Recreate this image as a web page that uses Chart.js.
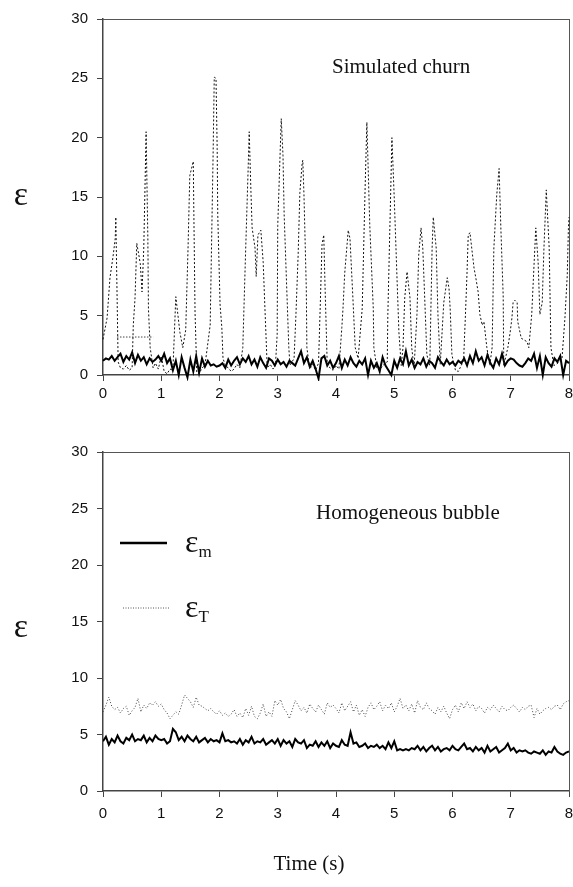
<!DOCTYPE html>
<html>
<head>
<meta charset="utf-8">
<script src="https://cdn.jsdelivr.net/npm/chart.js@4.4.0/dist/chart.umd.min.js"></script>
<style>
  html, body { margin: 0; padding: 0; background: #fff; }
  body { width: 573px; height: 887px; position: relative; overflow: hidden; }
  #churn { position: absolute; left: 0; top: 0; }
  #bubble { position: absolute; left: 0; top: 430px; }
</style>
</head>
<body>
<canvas id="churn" width="573" height="410"></canvas>
<canvas id="bubble" width="573" height="457"></canvas>
<script>
// axis ticks
const timeTicks = [0, 1, 2, 3, 4, 5, 6, 7, 8];
const epsTicks = [0, 5, 10, 15, 20, 25, 30];

// sampling step of the smooth (regularly sampled) records, in s
const sampleStep = 0.05;

// simulated churn: eps_T, read off peak by peak
const churnTTimes = [
  0.00, 0.07, 0.12, 0.17, 0.21, 0.22, 0.26, 0.30, 0.35, 0.40, 0.45, 0.50,
  0.52, 0.55, 0.58, 0.64, 0.67, 0.70, 0.74, 0.77, 0.78, 0.81, 0.86, 0.90,
  0.95, 1.00, 1.05, 1.10, 1.15, 1.20, 1.25, 1.32, 1.37, 1.42, 1.46, 1.49,
  1.55, 1.56, 1.58, 1.61, 1.65, 1.70, 1.75, 1.84, 1.89, 1.91, 1.94, 1.96,
  1.97, 2.01, 2.04, 2.06, 2.10, 2.15, 2.20, 2.25, 2.30, 2.35, 2.40, 2.45,
  2.49, 2.51, 2.54, 2.56, 2.61, 2.63, 2.66, 2.71, 2.75, 2.78, 2.82, 2.87,
  2.92, 2.96, 2.99, 3.00, 3.06, 3.09, 3.11, 3.16, 3.19, 3.21, 3.28, 3.31,
  3.35, 3.38, 3.42, 3.43, 3.45, 3.49, 3.50, 3.55, 3.60, 3.65, 3.70, 3.73,
  3.76, 3.79, 3.81, 3.85, 3.90, 3.95, 4.00, 4.05, 4.10, 4.12, 4.15, 4.19,
  4.21, 4.24, 4.29, 4.33, 4.38, 4.45, 4.50, 4.53, 4.58, 4.64, 4.65, 4.70,
  4.75, 4.80, 4.88, 4.89, 4.93, 4.96, 5.00, 5.05, 5.08, 5.12, 5.15, 5.18,
  5.22, 5.27, 5.30, 5.34, 5.39, 5.42, 5.46, 5.49, 5.56, 5.61, 5.65, 5.67,
  5.72, 5.75, 5.79, 5.85, 5.91, 5.94, 5.96, 5.99, 6.05, 6.10, 6.15, 6.19,
  6.22, 6.25, 6.27, 6.30, 6.33, 6.37, 6.40, 6.44, 6.47, 6.51, 6.54, 6.59,
  6.64, 6.68, 6.71, 6.76, 6.80, 6.83, 6.87, 6.88, 6.95, 6.99, 7.02, 7.04,
  7.07, 7.11, 7.12, 7.18, 7.28, 7.31, 7.36, 7.40, 7.43, 7.47, 7.50, 7.54,
  7.57, 7.61, 7.62, 7.66, 7.69, 7.74, 7.81, 7.88, 7.93, 7.97, 7.99, 8.00
];
const churnTValues = [
  3.0, 4.8, 8.2, 9.9, 11.5, 13.3, 1.1, 0.6, 0.5, 0.8, 0.4, 0.6,
  4.2, 6.5, 11.1, 9.4, 7.0, 10.7, 20.5, 11.5, 5.6, 2.3, 0.6, 1.0,
  0.5, 1.6, 0.3, 0.1, 0.5, 0.4, 6.6, 3.6, 2.3, 3.8, 10.7, 16.8,
  18.0, 13.5, 5.3, 0.2, 0.1, 0.6, 0.8, 4.2, 18.5, 25.1, 25.0, 19.1,
  13.5, 5.9, 4.0, 1.4, 0.8, 0.6, 0.3, 0.5, 0.9, 0.6, 2.3, 10.7,
  17.1, 20.5, 15.4, 12.4, 10.7, 8.3, 11.8, 12.2, 9.5, 5.6, 0.6, 0.9,
  0.5, 0.8, 3.4, 12.6, 21.6, 18.5, 13.5, 6.5, 2.3, 0.8, 1.4, 4.8,
  10.1, 15.4, 17.9, 18.1, 15.2, 7.3, 2.3, 0.5, 0.9, 0.4, 1.0, 5.9,
  11.0, 11.8, 7.8, 0.8, 0.6, 0.4, 0.8, 0.5, 4.0, 5.6, 8.6, 11.0,
  12.2, 11.5, 6.5, 2.3, 1.4, 5.6, 15.8, 21.3, 12.6, 5.6, 2.3, 0.6,
  0.4, 0.8, 1.1, 5.1, 13.5, 20.0, 14.9, 7.8, 3.6, 0.8, 2.3, 6.5,
  8.7, 6.5, 2.3, 0.6, 5.1, 10.1, 12.4, 10.7, 1.7, 0.8, 10.7, 13.3,
  10.7, 5.1, 0.9, 6.1, 8.2, 7.3, 5.6, 1.7, 0.4, 0.3, 0.8, 1.2,
  4.8, 8.7, 11.8, 12.0, 10.7, 9.0, 8.2, 7.0, 5.1, 4.2, 4.5, 2.3,
  0.8, 2.3, 10.7, 15.2, 17.4, 12.4, 6.7, 0.8, 2.3, 3.6, 4.8, 6.1,
  6.3, 6.1, 4.5, 3.1, 2.8, 2.3, 5.1, 9.3, 12.4, 9.5, 5.1, 6.1,
  10.7, 15.6, 14.6, 10.7, 2.3, 0.8, 1.0, 1.4, 4.8, 8.4, 12.4, 13.3
];
// short flat dotted stretch near the start of the churn record
const churnGapTimes = [0.24, 0.86];
const churnGapValues = [3.2, 3.2];

// simulated churn: eps_m, every sampleStep
const churnM = [
  1.2, 1.4, 1.3, 1.6, 1.2, 1.5, 1.8, 1.1, 1.6, 1.3,
  1.9, 1.0, 1.7, 1.2, 1.5, 0.9, 1.4, 1.1, 1.3, 1.6,
  1.2, 1.8, 1.0, 1.4, 0.4, 1.2, 0.0, 1.5, 0.6, -0.2,
  1.3, 0.3, 1.6, 0.2, 1.4, 0.7, 1.2, 0.8, 0.9, 0.7,
  0.8, 1.0, 0.6, 1.3, 0.8, 1.2, 1.5, 0.9, 1.4, 1.1,
  1.6, 0.9, 1.3, 0.7, 1.5, 1.0, 0.6, 1.4, 1.2, 0.8,
  1.3, 0.9, 1.1, 0.7, 1.2, 1.0, 0.8, 1.4, 2.0, 1.0,
  1.5, 0.7, 1.2, 0.5, -0.3, 1.4, 1.6, 0.8, 1.2, 0.6,
  1.0, 1.6, 0.6, 1.3, 0.8, 1.5, 1.0, 0.7, 1.2, 0.9,
  1.4, 0.0, 1.2, 0.6, 1.0, 0.3, 1.5, 0.8, 0.4, 0.0,
  1.2, 0.6, 1.4, 0.9, 2.0, 0.8, 1.3, 0.6, 1.1, 0.9,
  1.4, 0.7, 1.2, 1.0, 0.6, 1.5, 1.1, 0.8, 1.3, 0.9,
  1.1, 0.8, 1.2, 1.0, 1.4, 0.8, 1.6, 1.0, 2.0, 1.2,
  1.5, 0.8, 1.7, 1.0, 0.6, 1.4, 0.9, 1.8, 0.8, 1.2,
  1.4, 1.3, 1.0, 0.8, 0.7, 1.0, 1.4, 1.2, 1.8, 0.6,
  1.6, 0.0, 1.5, 1.0, 0.7, 1.4, 1.1, 1.6, 0.0, 1.2,
  1.0
];

// homogeneous bubble: eps_m and eps_T, every sampleStep
const bubbleM = [
  4.4, 4.8, 4.1, 4.6, 4.3, 4.9, 4.4, 4.2, 4.7, 4.5,
  5.0, 4.4, 4.6, 4.5, 4.9, 4.3, 4.7, 4.4, 4.9, 4.6,
  4.5, 4.6, 4.2, 4.4, 5.5, 5.2, 4.5, 4.8, 4.4, 4.9,
  4.6, 4.4, 4.8, 4.3, 4.5, 4.7, 4.3, 4.6, 4.4, 4.5,
  4.3, 5.1, 4.4, 4.5, 4.3, 4.4, 4.2, 4.6, 4.1, 4.5,
  4.3, 4.8, 4.2, 4.4, 4.3, 4.6, 4.1, 4.3, 4.5, 4.2,
  4.6, 4.0, 4.5, 4.2, 4.4, 3.9, 4.6, 4.3, 4.2, 4.5,
  3.8, 4.1, 4.0, 4.4, 3.9, 4.3, 4.0, 4.4, 3.8, 4.2,
  4.0, 3.9, 4.5, 4.1, 4.0, 5.2, 4.2, 4.3, 3.9, 4.0,
  4.2, 3.8, 4.0, 3.9, 4.1, 3.8, 4.0, 3.7, 4.3, 3.8,
  4.4, 3.6, 3.7, 3.6, 3.7, 3.6, 3.8, 3.7, 4.0, 3.6,
  3.9, 3.5, 3.8, 4.0, 3.6, 3.9, 3.5, 3.7, 3.8, 3.6,
  4.0, 3.7, 3.6, 3.9, 4.2, 3.7, 3.8, 3.5, 3.9, 3.6,
  3.8, 3.4, 4.0, 3.5, 3.7, 3.9, 3.4, 3.6, 3.8, 4.2,
  3.6, 3.8, 3.4, 3.6, 3.5, 3.6, 3.4, 3.3, 3.5, 3.4,
  3.3, 3.6, 3.2, 3.5, 3.4, 3.9, 3.5, 3.3, 3.2, 3.4,
  3.5
];
const bubbleT = [
  7.0, 7.6, 8.3, 7.5, 7.2, 7.4, 6.9, 7.3, 7.5, 6.7,
  7.1, 7.4, 8.2, 7.0, 7.6, 7.3, 7.8, 7.6, 7.9, 7.5,
  7.7, 7.2, 6.9, 6.4, 6.7, 7.0, 6.8, 7.6, 8.5, 8.2,
  7.9, 7.4, 8.3, 7.6, 7.5, 7.3, 7.1, 7.3, 7.0, 6.8,
  7.1, 6.7, 6.9, 6.6, 6.8, 7.2, 6.6, 6.9, 6.5, 7.3,
  6.7, 7.5, 6.6, 6.4, 6.9, 7.7, 6.6, 7.0, 6.6, 8.0,
  7.6, 8.1, 7.3, 7.0, 6.4, 7.2, 8.0, 7.6, 7.1, 7.4,
  6.9, 7.7, 7.3, 7.0, 7.6, 7.2, 6.8, 7.8, 7.4, 7.6,
  7.3, 6.9, 7.8, 7.1, 7.5, 7.9, 7.0, 7.6, 6.7, 7.2,
  6.6, 7.4, 7.8, 7.2, 7.5, 7.9, 7.1, 7.6, 7.3, 7.8,
  7.0, 7.5, 8.2, 7.3, 7.6, 7.1, 7.7, 6.9, 8.0, 7.4,
  7.2, 7.8, 7.3, 7.1, 6.8, 7.4, 7.0, 7.5, 6.9, 6.4,
  7.2, 7.6, 7.0, 7.8, 7.3, 7.9, 7.4, 7.7, 7.1, 7.5,
  7.3, 6.9, 7.4, 7.2, 7.6, 7.3, 7.0, 7.5, 7.2, 7.1,
  7.4, 7.6, 7.3, 7.0, 7.4, 7.2, 7.5, 7.6, 6.5, 7.3,
  6.8, 7.1, 7.3, 7.4, 7.2, 7.5, 7.6, 7.2, 7.7, 7.9,
  8.0
];

const sansFont = '"Liberation Sans", Arial, sans-serif';
const serifFont = '"Liberation Serif", "Times New Roman", serif';

function pairs(times, values) {
  return values.map((v, i) => ({ x: times[i], y: v }));
}
function sampled(values) {
  return values.map((v, i) => ({ x: +(i * sampleStep).toFixed(2), y: v }));
}

function axes(xHeight, tickPad) {
  const tickFont = { family: sansFont, size: 15 };
  const tickGrid = { drawOnChartArea: false, drawTicks: true, tickLength: 6, color: '#444', lineWidth: 1 };
  const axisBorder = { color: '#444', width: 1.5 };
  const frameBorder = { color: '#555', width: 1 };
  return {
    x: {
      type: 'linear', min: 0, max: 8,
      afterBuildTicks: s => { s.ticks = timeTicks.map(v => ({ value: v })); },
      ticks: { font: tickFont, color: '#111', padding: tickPad, maxRotation: 0, autoSkip: false },
      grid: tickGrid, border: axisBorder,
      afterFit: s => { s.height = xHeight; s.paddingLeft = 0; s.paddingRight = 0; }
    },
    y: {
      type: 'linear', min: 0, max: 30,
      afterBuildTicks: s => { s.ticks = epsTicks.map(v => ({ value: v })); },
      ticks: { font: tickFont, color: '#111', padding: 9 },
      grid: tickGrid, border: axisBorder,
      afterFit: s => { s.width = 103; s.paddingTop = 0; s.paddingBottom = 0; }
    },
    xTop: {
      type: 'linear', position: 'top', min: 0, max: 8,
      ticks: { display: false }, grid: { display: false }, border: frameBorder,
      afterFit: s => { s.height = 0; s.paddingLeft = 0; s.paddingRight = 0; }
    },
    yRight: {
      type: 'linear', position: 'right', min: 0, max: 30,
      ticks: { display: false }, grid: { display: false }, border: frameBorder,
      afterFit: s => { s.width = 0; s.paddingTop = 0; s.paddingBottom = 0; }
    }
  };
}

function textPlugin(draw) {
  return {
    id: 'figText',
    afterDraw(chart) {
      const c = chart.ctx;
      c.save();
      c.fillStyle = '#111';
      c.textBaseline = 'alphabetic';
      draw(c, chart);
      c.restore();
    }
  };
}

function baseOptions(xHeight, tickPad, top) {
  return {
    responsive: false,
    animation: false,
    devicePixelRatio: 1,
    layout: { padding: { top: top, right: 4, left: 0, bottom: 0 }, autoPadding: false },
    plugins: { legend: { display: false }, tooltip: { enabled: false } },
    elements: { point: { radius: 0 }, line: { tension: 0 } },
    scales: axes(xHeight, tickPad)
  };
}

new Chart(document.getElementById('churn'), {
  type: 'line',
  data: {
    datasets: [
      { label: 'εT', data: pairs(churnTTimes, churnTValues), borderColor: '#111', borderWidth: 1, borderDash: [2, 2], clip: 6 },
      { label: 'gap', data: pairs(churnGapTimes, churnGapValues), borderColor: '#444', borderWidth: 1, borderDash: [1.5, 1.5] },
      { label: 'εm', data: sampled(churnM), borderColor: '#000', borderWidth: 2, clip: 6 }
    ]
  },
  options: baseOptions(35, 4, 19),
  plugins: [textPlugin((c) => {
    c.font = '34px ' + serifFont;
    c.textAlign = 'center';
    c.fillText('ε', 21, 205);
    c.font = '21px ' + serifFont;
    c.textAlign = 'left';
    c.fillText('Simulated churn', 332, 73);
  })]
});

new Chart(document.getElementById('bubble'), {
  type: 'line',
  data: {
    datasets: [
      { label: 'εT', data: sampled(bubbleT), borderColor: '#444', borderWidth: 1, borderDash: [1, 2] },
      { label: 'εm', data: sampled(bubbleM), borderColor: '#000', borderWidth: 2 }
    ]
  },
  options: baseOptions(96, 8, 22),
  plugins: [textPlugin((c) => {
    c.font = '34px ' + serifFont;
    c.textAlign = 'center';
    c.fillText('ε', 21, 207);
    c.font = '21px ' + serifFont;
    c.textAlign = 'left';
    c.fillText('Homogeneous bubble', 316, 89);
    // legend
    c.strokeStyle = '#000';
    c.lineWidth = 2.5;
    c.beginPath(); c.moveTo(120, 113); c.lineTo(167, 113); c.stroke();
    c.strokeStyle = '#555';
    c.lineWidth = 1;
    c.setLineDash([1, 1.5]);
    c.beginPath(); c.moveTo(123, 178); c.lineTo(170, 178); c.stroke();
    c.setLineDash([]);
    c.font = '32px ' + serifFont;
    c.fillText('ε', 185, 122);
    c.fillText('ε', 185, 187);
    const w = c.measureText('ε').width;
    c.font = '17px ' + serifFont;
    c.fillText('m', 185 + w, 127);
    c.fillText('T', 185 + w, 192);
    c.font = '21px ' + serifFont;
    c.textAlign = 'center';
    c.fillText('Time (s)', 309, 440);
  })]
});
</script>
</body>
</html>
